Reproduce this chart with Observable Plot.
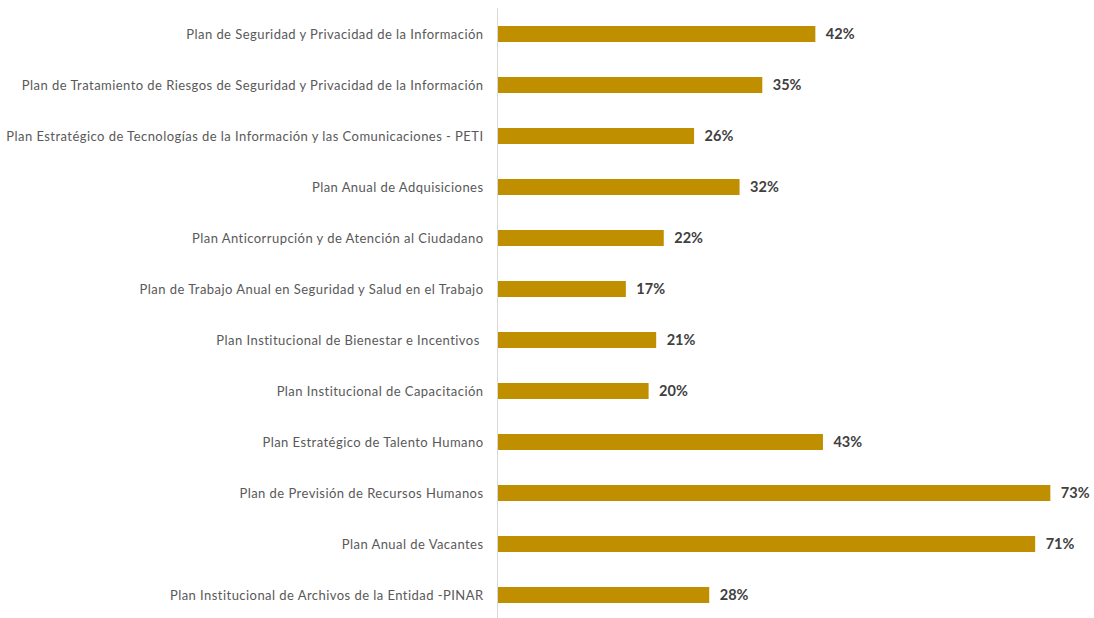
<!DOCTYPE html>
<html>
<head>
<meta charset="utf-8">
<script src="https://cdn.jsdelivr.net/npm/d3@7"></script>
<script src="https://cdn.jsdelivr.net/npm/@observablehq/plot@0.6"></script>
<style>
  html, body { margin: 0; padding: 0; background: #fff; }
  #chart { width: 1094px; height: 618px; }
  g[aria-label="y-axis tick label"] text { letter-spacing: 0.45px; }
</style>
</head>
<body>
<div id="chart"></div>
<script>
const categories = [
  "Plan de Seguridad y Privacidad de la Información",
  "Plan de Tratamiento de Riesgos de Seguridad y Privacidad de la Información",
  "Plan Estratégico de Tecnologías de la Información y las Comunicaciones - PETI",
  "Plan Anual de Adquisiciones",
  "Plan Anticorrupción y de Atención al Ciudadano",
  "Plan de Trabajo Anual en Seguridad y Salud en el Trabajo",
  "Plan Institucional de Bienestar e Incentivos ",
  "Plan Institucional de Capacitación",
  "Plan Estratégico de Talento Humano",
  "Plan de Previsión de Recursos Humanos",
  "Plan Anual de Vacantes",
  "Plan Institucional de Archivos de la Entidad -PINAR"
];
const values = [42, 35, 26, 32, 22, 17, 21, 20, 43, 73, 71, 28];

const data = categories.map((c, i) => ({category: c, value: values[i]}));

const chart = Plot.plot({
  width: 1094,
  height: 618,
  marginLeft: 497,
  marginRight: 0,
  marginTop: 8,
  marginBottom: 0,
  style: {fontFamily: "Lato, 'Open Sans', sans-serif", fontSize: "13px", background: "#fff"},
  x: {domain: [0, 597 / 7.58], axis: null},
  y: {domain: categories, range: [6.3, 623.4], paddingInner: 0.68, paddingOuter: 0.34, label: null, tickSize: 0, tickPadding: 14},
  marks: [
    Plot.axisY({tickSize: 0, tickPadding: 14, fill: "#595959", fontSize: 13, label: null}),
    Plot.barX(data, {x: "value", y: "category", fill: "#BF8F00"}),
    Plot.ruleX([0], {stroke: "#d9d9d9", strokeWidth: 1}),
    Plot.text(data, {x: "value", y: "category", text: d => d.value + "%", textAnchor: "start", dx: 10, fill: "#404040", fontWeight: "bold", fontSize: 14.5})
  ]
});
document.getElementById("chart").appendChild(chart);
</script>
</body>
</html>
